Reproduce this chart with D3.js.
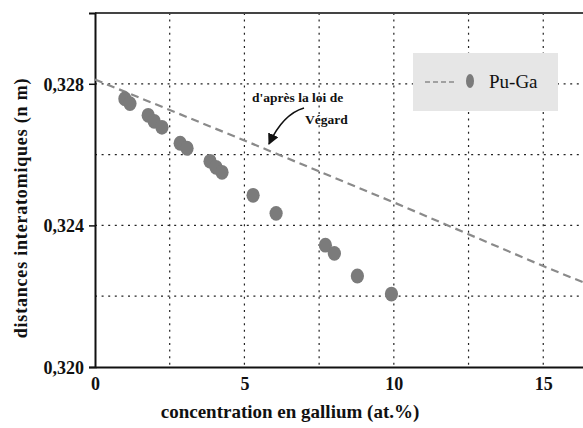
<!DOCTYPE html>
<html>
<head>
<meta charset="utf-8">
<script src="https://cdn.jsdelivr.net/npm/d3@7/dist/d3.min.js"></script>
<style>
  html, body { margin: 0; padding: 0; background: #fff; }
  svg { display: block; }
  text { font-family: "Liberation Serif", "Times New Roman", "DejaVu Serif", serif; font-weight: bold; fill: #111; }
</style>
</head>
<body>
<svg id="chart" width="583" height="428"></svg>
<script>
// ---- data ----
const gaConcentration = [1.0, 1.17, 1.78, 1.98, 2.24, 2.85, 3.08, 3.85, 4.05, 4.25, 5.29, 6.06, 7.71, 8.01, 8.78, 9.92];
const gaDistance = [0.32758, 0.32744, 0.32711, 0.32694, 0.32677, 0.32632, 0.32618, 0.32581, 0.32564, 0.32550, 0.32485, 0.32434, 0.32344, 0.32321, 0.32257, 0.32206];
const vegardConcentration = [0, 5, 10, 15, 16.4];
const vegardDistance = [0.32812, 0.32640, 0.32465, 0.32285, 0.32237];
const xTickValues = [0, 5, 10, 15];
const xTickLabels = ["0", "5", "10", "15"];
const yTickValues = [0.320, 0.324, 0.328];
const yTickLabels = ["0,320", "0,324", "0,328"];
const xGridValues = [2.5, 5, 7.5, 10, 12.5, 15];
const yGridValues = [0.322, 0.324, 0.326, 0.328];
const seriesName = "Pu-Ga";
const annotationLines = ["d'après la loi de", "Végard"];
const xTitle = "concentration en gallium (at.%)";
const yTitle = "distances interatomiques (n m)";

(function () {
const FONT = "'Liberation Serif', 'Times New Roman', 'DejaVu Serif', serif";
// ---- layout ----
const svg = d3.select("#chart");
const pLeft = 95, pRight = 583, pTop = 13, pBottom = 367;
const x = d3.scaleLinear().domain([0, 16.33]).range([pLeft, pRight]);
const y = d3.scaleLinear().domain([0.320, 0.330]).range([pBottom, pTop]);

const defs = svg.append("defs");
defs.append("clipPath").attr("id", "plotclip")
  .append("rect").attr("x", pLeft).attr("y", pTop).attr("width", pRight - pLeft).attr("height", pBottom - pTop);

// grid
const grid = svg.append("g").attr("stroke", "#222").attr("stroke-width", 1.2).attr("stroke-dasharray", "2,4.6");
grid.selectAll("line.vx").data(xGridValues).join("line")
  .attr("x1", d => x(d)).attr("x2", d => x(d)).attr("y1", pTop).attr("y2", pBottom);
grid.selectAll("line.hy").data(yGridValues).join("line")
  .attr("x1", pLeft).attr("x2", pRight).attr("y1", d => y(d)).attr("y2", d => y(d));

// top border
svg.append("line").attr("x1", pLeft).attr("x2", pRight).attr("y1", pTop).attr("y2", pTop)
  .attr("stroke", "#444").attr("stroke-width", 2);

// axes
const xAxis = d3.axisBottom(x).tickValues(xTickValues).tickFormat((d, i) => xTickLabels[i]).tickSize(0).tickPadding(10);
const gx = svg.append("g").attr("transform", `translate(0,${pBottom})`).call(xAxis);
gx.attr("font-family", FONT).attr("font-size", 18).attr("font-weight", "bold");
gx.select(".domain").attr("stroke", "#111").attr("stroke-width", 2);
gx.selectAll("text").attr("fill", "#111");

const yAxis = d3.axisLeft(y).tickValues(yTickValues).tickFormat((d, i) => yTickLabels[i]).tickSize(6).tickPadding(5);
const gy = svg.append("g").attr("transform", `translate(${pLeft},0)`).call(yAxis);
gy.attr("font-family", FONT).attr("font-size", 18).attr("font-weight", "bold");
gy.select(".domain").attr("stroke", "#111").attr("stroke-width", 2);
gy.selectAll(".tick line").attr("stroke", "#111").attr("stroke-width", 1.5);
gy.selectAll("text").attr("fill", "#111").attr("dy", "0.35em");

// plot contents
const plot = svg.append("g").attr("clip-path", "url(#plotclip)");
const vegardPts = vegardConcentration.map((c, i) => [c, vegardDistance[i]]);
plot.append("path").datum(vegardPts)
  .attr("d", d3.line().x(d => x(d[0])).y(d => y(d[1])))
  .attr("fill", "none").attr("stroke", "#8a8a8a").attr("stroke-width", 2.2).attr("stroke-dasharray", "8,5");

const gaPts = gaConcentration.map((c, i) => [c, gaDistance[i]]);
plot.selectAll("ellipse.pt").data(gaPts).join("ellipse")
  .attr("cx", d => x(d[0])).attr("cy", d => y(d[1]))
  .attr("rx", 6.6).attr("ry", 7.4).attr("fill", "#7b7b7b");

// annotation
const ann = svg.append("g");
ann.append("text").attr("x", 252).attr("y", 102).style("font-size", "13.5px").text(annotationLines[0]);
ann.append("text").attr("x", 305).attr("y", 124).style("font-size", "13.5px").text(annotationLines[1]);
defs.append("marker").attr("id", "arrowhead").attr("viewBox", "0 0 10 10")
  .attr("refX", 9).attr("refY", 5).attr("markerWidth", 7).attr("markerHeight", 7).attr("orient", "auto")
  .append("path").attr("d", "M0,0 L10,5 L0,10 Z").attr("fill", "#111");
ann.append("path").attr("d", "M304,108 Q283,114 269,144")
  .attr("fill", "none").attr("stroke", "#111").attr("stroke-width", 1.6).attr("marker-end", "url(#arrowhead)");

// legend
const lg = svg.append("g");
lg.append("rect").attr("x", 413).attr("y", 53).attr("width", 145).attr("height", 58).attr("fill", "#e6e6e6");
lg.append("line").attr("x1", 425).attr("x2", 457).attr("y1", 82).attr("y2", 82)
  .attr("stroke", "#8a8a8a").attr("stroke-width", 1.5).attr("stroke-dasharray", "5,3");
lg.append("ellipse").attr("cx", 470).attr("cy", 81).attr("rx", 4).attr("ry", 7).attr("fill", "#7b7b7b");
lg.append("text").attr("x", 489).attr("y", 88).style("font-size", "19px").style("font-weight", "normal").text(seriesName);

// axis titles
svg.append("text").attr("x", 290).attr("y", 418).attr("text-anchor", "middle")
  .style("font-size", "19px").text(xTitle);
svg.append("text").attr("transform", "translate(27,208) rotate(-90)").attr("text-anchor", "middle")
  .style("font-size", "18px").style("letter-spacing", "0.8px").text(yTitle);
})();
</script>
</body>
</html>
